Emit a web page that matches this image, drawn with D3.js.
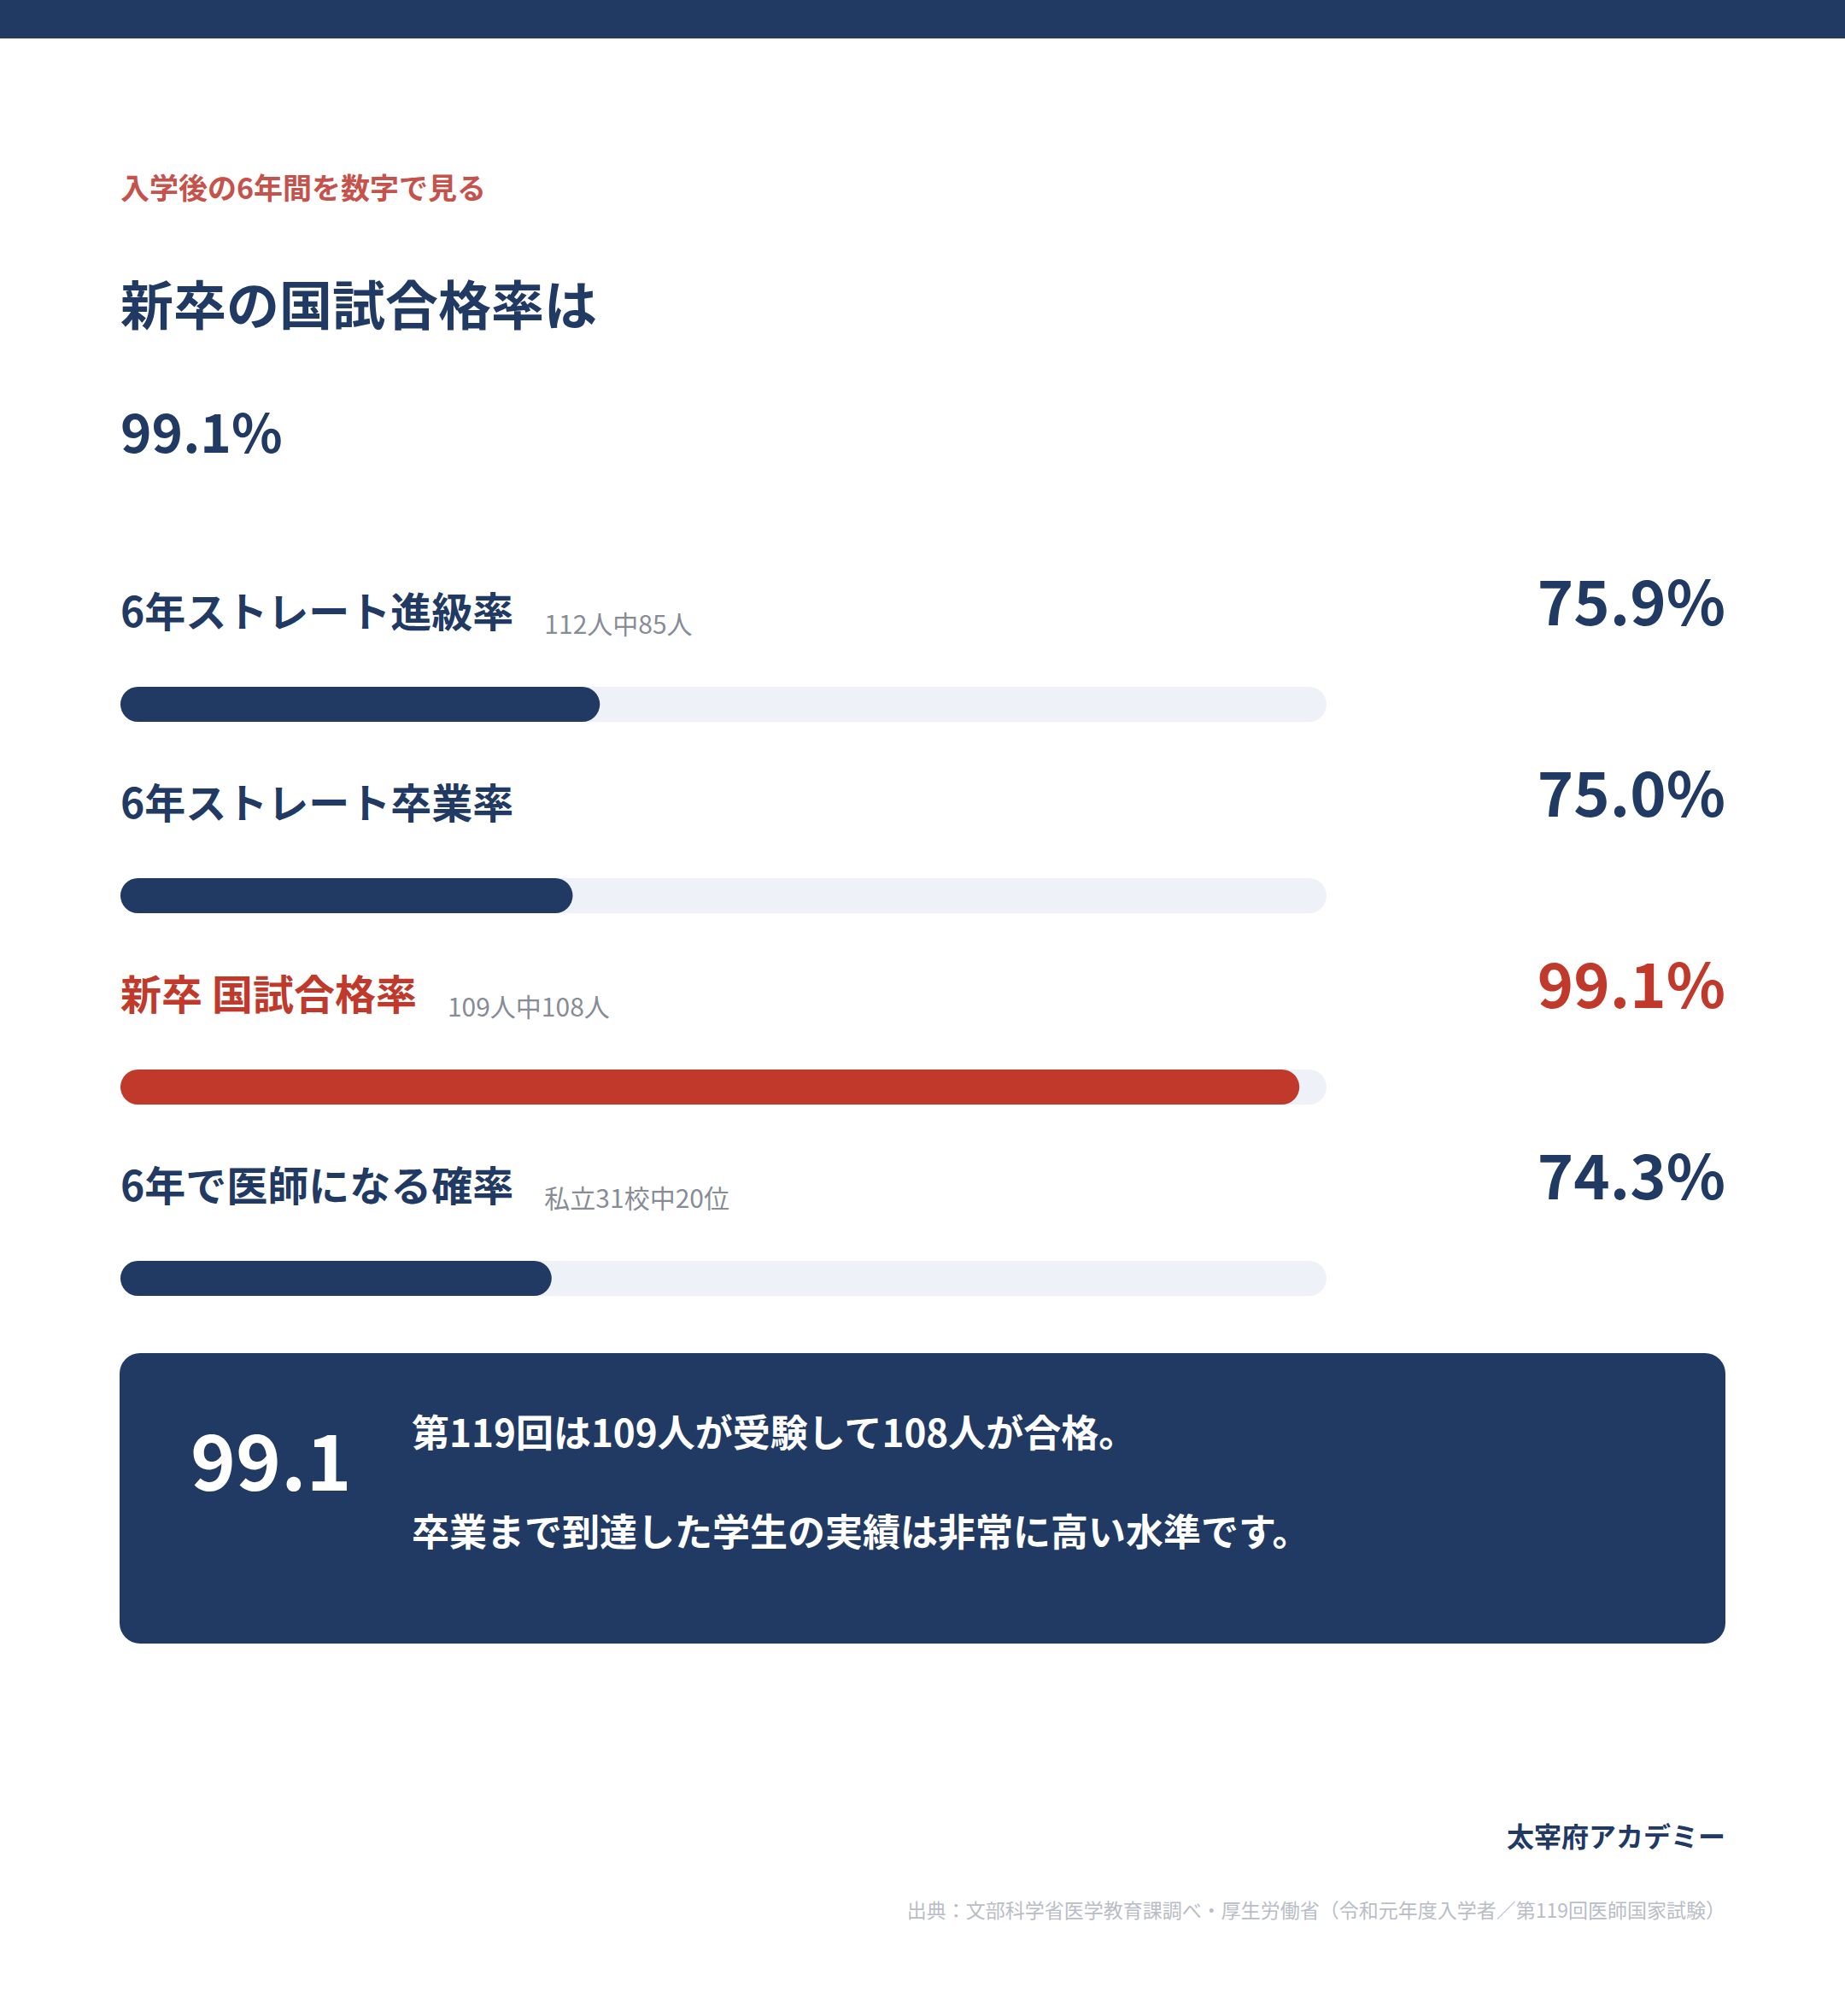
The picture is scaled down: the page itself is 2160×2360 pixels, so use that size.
<!DOCTYPE html>
<html><head><meta charset="utf-8">
<script src="https://cdn.jsdelivr.net/npm/d3@7"></script>
<style>
html,body{margin:0;padding:0;background:#fff;}
svg{display:block;font-family:"Noto Sans CJK JP","Noto Sans",sans-serif;}
</style></head>
<body>
<script>
// ---- data ----
const categories = ["6年ストレート進級率", "6年ストレート卒業率", "新卒 国試合格率", "6年で医師になる確率"];
const values = [75.9, 75.0, 99.1, 74.3];
const notes = ["112人中85人", "", "109人中108人", "私立31校中20位"];
const highlight = [false, false, true, false];
const scaleDomain = [60, 100];
const kicker = "入学後の6年間を数字で見る";
const title = "新卒の国試合格率は";
const headline = "99.1%";
const calloutValue = "99.1";
const calloutLines = ["第119回は109人が受験して108人が合格。", "卒業まで到達した学生の実績は非常に高い水準です。"];
const brand = "太宰府アカデミー";
const source = "出典：文部科学省医学教育課調べ・厚生労働省（令和元年度入学者／第119回医師国家試験）";

// ---- layout ----
const W = 2160, H = 2360;
const NAVY = "#213a63", RED = "#c0392b", TRACK = "#eef1f8", GREY = "#878c96";
const left = 141, right = 2020, trackW = 1412, barH = 41;

const svg = d3.select("body").append("svg").attr("width", W).attr("height", H);
svg.append("rect").attr("x", 0).attr("y", 0).attr("width", W).attr("height", 45).attr("fill", NAVY);

svg.append("text").attr("x", left).attr("y", 233).attr("font-size", 34).attr("font-weight", 700)
  .attr("fill", "#c5524b").text(kicker);
svg.append("text").attr("x", left).attr("y", 381).attr("font-size", 62).attr("font-weight", 700)
  .attr("fill", NAVY).text(title);
svg.append("text").attr("x", left).attr("y", 530).attr("font-size", 62).attr("font-weight", 700)
  .attr("fill", NAVY).text(headline);

const x = d3.scaleLinear().domain(scaleDomain).range([0, trackW]);
const y = d3.scalePoint().domain(categories).range([804, 804 + 224 * (categories.length - 1)]);

const rows = svg.selectAll("g.row").data(categories.map((c, i) => ({c, v: values[i], n: notes[i], h: highlight[i]})))
  .enter().append("g").attr("class", "row");

rows.append("rect").attr("x", left).attr("y", d => y(d.c)).attr("width", trackW).attr("height", barH)
  .attr("rx", barH / 2).attr("fill", TRACK);
rows.append("rect").attr("x", left).attr("y", d => y(d.c)).attr("width", d => x(d.v)).attr("height", barH)
  .attr("rx", barH / 2).attr("fill", d => d.h ? RED : NAVY);

const labels = rows.append("text").attr("x", left).attr("y", d => y(d.c) - 70)
  .attr("font-size", 48).attr("font-weight", 700).attr("fill", d => d.h ? RED : NAVY).text(d => d.c);
labels.each(function(d) {
  const w = this.getComputedTextLength();
  d3.select(this.parentNode).append("text").attr("x", left + w + 36).attr("y", y(d.c) - 62)
    .attr("font-size", 30).attr("font-weight", 400).attr("fill", GREY).text(d.n);
});
rows.append("text").attr("x", right).attr("y", d => y(d.c) - 72).attr("text-anchor", "end")
  .attr("font-size", 72).attr("font-weight", 700).attr("fill", d => d.h ? RED : NAVY)
  .text(d => d.v.toFixed(1) + "%");

// callout box
svg.append("rect").attr("x", 140).attr("y", 1584).attr("width", right - 140).attr("height", 340)
  .attr("rx", 24).attr("fill", NAVY);
svg.append("text").attr("x", 223).attr("y", 1745).attr("font-size", 90).attr("font-weight", 700)
  .attr("fill", "#fff").text(calloutValue);
svg.selectAll("text.cl").data(calloutLines).enter().append("text").attr("class", "cl")
  .attr("x", 482).attr("y", (d, i) => 1694 + i * 116).attr("font-size", 44).attr("font-weight", 700)
  .attr("fill", "#fff").text(d => d);

svg.append("text").attr("x", right).attr("y", 2162).attr("text-anchor", "end").attr("font-size", 32)
  .attr("font-weight", 700).attr("fill", NAVY).text(brand);
svg.append("text").attr("x", right).attr("y", 2245).attr("text-anchor", "end").attr("font-size", 23)
  .attr("font-weight", 400).attr("fill", "#b9bdc7").text(source);
</script>
</body></html>
